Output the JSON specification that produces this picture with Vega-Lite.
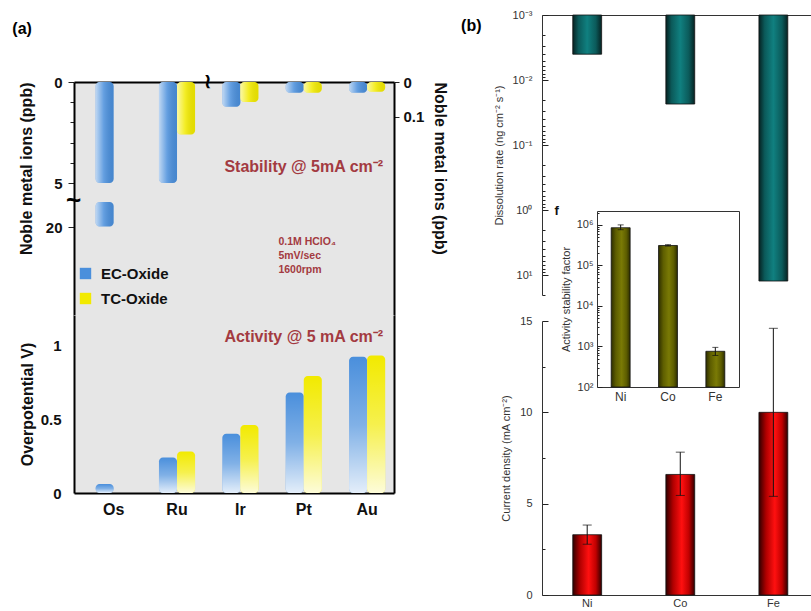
{
"$schema":"https://vega.github.io/schema/vega-lite/v6.json",
"background":"white",
"padding":{"left":12,"top":9,"right":0,"bottom":0},
"config":{
 "view":{"stroke":null},
 "font":"Liberation Sans",
 "axis":{"labelFont":"Liberation Sans","titleFont":"Liberation Sans","labelColor":"#333","titleColor":"#333","domainColor":"#000","tickColor":"#222","grid":false,"labelFontSize":11,"titleFontSize":11,"titleFontWeight":"normal"},
 "title":{"font":"Liberation Sans","fontSize":16,"fontWeight":"bold","color":"#000","anchor":"start","frame":"bounds"}
},
"datasets":{
 "stabL":[{"metal":"Os","type":"EC","lo":0,"hi":5},{"metal":"Os","type":"EC","lo":11.5,"hi":19.8},{"metal":"Ru","type":"EC","lo":0,"hi":5},{"metal":"Ru","type":"TC","lo":0,"hi":2.6}],
 "stabR":[{"metal":"Ir","type":"EC","ppb":0.071},{"metal":"Ir","type":"TC","ppb":0.057},{"metal":"Pt","type":"EC","ppb":0.031},{"metal":"Pt","type":"TC","ppb":0.031},{"metal":"Au","type":"EC","ppb":0.031},{"metal":"Au","type":"TC","ppb":0.028}],
 "act":[{"metal":"Os","type":"EC","V":0.06},{"metal":"Ru","type":"EC","V":0.24},{"metal":"Ru","type":"TC","V":0.28},{"metal":"Ir","type":"EC","V":0.40},{"metal":"Ir","type":"TC","V":0.46},{"metal":"Pt","type":"EC","V":0.68},{"metal":"Pt","type":"TC","V":0.79},{"metal":"Au","type":"EC","V":0.92},{"metal":"Au","type":"TC","V":0.93}],
 "diss":[{"metal":"Ni","rate":0.004},{"metal":"Co","rate":0.0233},{"metal":"Fe","rate":12.2}],
 "curr":[{"metal":"Ni","j":3.3,"lo":2.78,"hi":3.83},{"metal":"Co","j":6.6,"lo":5.45,"hi":7.82},{"metal":"Fe","j":10.0,"lo":5.4,"hi":14.6}],
 "asf":[{"metal":"Ni","v":850000,"lo":760000,"hi":1000000},{"metal":"Co","v":310000,"lo":300000,"hi":325000},{"metal":"Fe","v":760,"lo":600,"hi":950}]
},
"concat":[
 {
  "title":{"text":"(a)","offset":-22,"dx":-6},
  "vconcat":[
   {"width":320,"height":67,"view":{"fill":"#ffffff"},"data":{"values":[]},"mark":"point"},
   {
    "width":320,"height":233,
    "view":{"fill":"#e6e6e6"},
    "layer":[
     {"layer":[
       {"data":{"name":"stabL"},"mark":{"type":"bar","cornerRadius":4},
        "encoding":{
         "x":{"field":"metal","type":"nominal","scale":{"domain":["Os","Ru","Ir","Pt","Au"],"paddingInner":0.43,"paddingOuter":0.24,"align":0.71},"axis":{"orient":"top","labels":false,"ticks":false,"title":null,"domainWidth":2}},
         "xOffset":{"field":"type","type":"nominal","scale":{"domain":["EC","TC"]}},
         "y":{"field":"lo","type":"quantitative","scale":{"domain":[0,5,20,40],"range":[0,101,145,233],"nice":false,"zero":false},
              "axis":{"orient":"left","values":[0,1,2,3,4,5,20],"labelExpr":"(datum.value==0||datum.value==5||datum.value==20)?datum.label:''","tickSize":{"condition":{"test":"datum.value==0||datum.value==5||datum.value==20","value":6},"value":4},"labelPadding":6,"labelFontSize":15,"labelFontWeight":"bold","labelColor":"#111","title":"Noble metal ions (ppb)","titleFontSize":16,"titleFontWeight":"bold","titleColor":"#111","titleAnchor":"start","titleAlign":"right","titlePadding":11,"domainWidth":2}},
         "y2":{"field":"hi"},
         "color":{"field":"type","type":"nominal","scale":{"domain":["EC","TC"],"range":["#4a8fdc","#f2ea00"]},"legend":{"title":null,"orient":"none","legendX":4,"legendY":184,"symbolType":"square","symbolSize":130,"symbolStrokeWidth":0,"labelFontSize":15,"labelFontWeight":"bold","labelFont":"Liberation Sans","labelColor":"#111","labelOffset":8,"rowPadding":9,"labelExpr":"datum.label + '-Oxide'"}}
        }},
       {"data":{"name":"stabL"},"mark":{"type":"bar","cornerRadius":4,"fill":{"gradient":"linear","x1":0,"y1":0,"x2":1,"y2":0,"stops":[{"offset":0,"color":"rgba(255,255,255,0.65)"},{"offset":0.45,"color":"rgba(255,255,255,0.15)"},{"offset":1,"color":"rgba(0,0,0,0.06)"}]}},
        "encoding":{"x":{"field":"metal","type":"nominal","axis":null},"xOffset":{"field":"type","type":"nominal"},"y":{"field":"lo","type":"quantitative","axis":null},"y2":{"field":"hi"}}},
       {"data":{"values":[{}]},"mark":{"type":"text","text":"Stability @ 5mA cm⁻²","fontSize":16,"fontWeight":"bold","color":"#a33a41","align":"center","baseline":"middle"},
        "encoding":{"x":{"datum":"Pt","axis":null},"y":{"datum":4.2,"axis":null}}},
       {"data":{"values":[{}]},"mark":{"type":"text","text":"0.1M HClO₄\n5mV/sec\n1600rpm","lineBreak":"\n","lineHeight":14,"fontSize":10.5,"fontWeight":"bold","color":"#a33a41","align":"left","baseline":"top","dx":38},
        "encoding":{"x":{"datum":"Ir","axis":null},"y":{"datum":22.3,"axis":null}}},
       {"data":{"values":[{}]},"mark":{"type":"text","text":"~","fontSize":26,"fontWeight":"bold","color":"#000","align":"center","baseline":"middle","dx":-40},
        "encoding":{"x":{"datum":"Os","axis":null},"y":{"datum":11,"axis":null}}},
       {"data":{"values":[{}]},"mark":{"type":"text","text":"≀","fontSize":20,"fontWeight":"bold","color":"#000","align":"center","baseline":"middle","dx":31},
        "encoding":{"x":{"datum":"Ru","axis":null},"y":{"datum":0,"axis":null}}}
      ],
      "resolve":{"axis":{"x":"independent","y":"independent"}}
     },
     {"layer":[
       {"data":{"name":"stabR"},"mark":{"type":"bar","cornerRadius":4},
        "encoding":{"x":{"field":"metal","type":"nominal","axis":null},"xOffset":{"field":"type","type":"nominal"},
         "y":{"field":"ppb","type":"quantitative","stack":null,"scale":{"domain":[0,0.666],"reverse":true,"nice":false},"axis":{"orient":"right","values":[0,0.1],"format":"~g","tickSize":5,"labelPadding":4,"labelFontSize":15,"labelFontWeight":"bold","labelColor":"#111","title":"Noble metal ions (ppb)","titleFontSize":16,"titleFontWeight":"bold","titleColor":"#111","titleAnchor":"start","titlePadding":8,"domainWidth":2}},
         "color":{"field":"type","type":"nominal","scale":{"domain":["EC","TC"],"range":["#4a8fdc","#f2ea00"]},"legend":{"title":null,"orient":"none","legendX":4,"legendY":184,"symbolType":"square","symbolSize":130,"symbolStrokeWidth":0,"labelFontSize":15,"labelFontWeight":"bold","labelFont":"Liberation Sans","labelColor":"#111","labelOffset":8,"rowPadding":9,"labelExpr":"datum.label + '-Oxide'"}}}},
       {"data":{"name":"stabR"},"mark":{"type":"bar","cornerRadius":4,"fill":{"gradient":"linear","x1":0,"y1":0,"x2":1,"y2":0,"stops":[{"offset":0,"color":"rgba(255,255,255,0.65)"},{"offset":0.45,"color":"rgba(255,255,255,0.15)"},{"offset":1,"color":"rgba(0,0,0,0.06)"}]}},
        "encoding":{"x":{"field":"metal","type":"nominal","axis":null},"xOffset":{"field":"type","type":"nominal"},"y":{"field":"ppb","type":"quantitative","stack":null,"axis":null}}}
      ],
      "resolve":{"axis":{"x":"independent","y":"independent"}}
     }
    ],
    "resolve":{"scale":{"y":"independent"}}
   },
   {
    "width":320,"height":178,
    "view":{"fill":"#e6e6e6"},
    "layer":[
     {"data":{"name":"act"},"mark":{"type":"bar","cornerRadius":4},
      "encoding":{
       "x":{"field":"metal","type":"nominal","scale":{"domain":["Os","Ru","Ir","Pt","Au"],"paddingInner":0.43,"paddingOuter":0.24,"align":0.71},"axis":{"orient":"bottom","ticks":false,"labelPadding":8,"labelFontSize":16,"labelFontWeight":"bold","labelColor":"#111","labelAngle":0,"title":null,"domainWidth":2}},
       "xOffset":{"field":"type","type":"nominal","scale":{"domain":["EC","TC"]}},
       "y":{"field":"V","type":"quantitative","stack":null,"scale":{"domain":[0,1.203],"nice":false},"axis":{"orient":"left","values":[0,0.5,1],"format":"~g","ticks":false,"labelPadding":13,"labelFontSize":15,"labelFontWeight":"bold","labelColor":"#111","title":"Overpotential V)","titleFontSize":16,"titleFontWeight":"bold","titleColor":"#111","titlePadding":5,"domainWidth":2}},
       "color":{"field":"type","type":"nominal","scale":{"domain":["EC","TC"],"range":["#4a8fdc","#f2ea00"]},"legend":null}
      }},
     {"data":{"name":"act"},"mark":{"type":"bar","cornerRadius":4,"fill":{"gradient":"linear","x1":0,"y1":0,"x2":0,"y2":1,"stops":[{"offset":0,"color":"rgba(255,255,255,0)"},{"offset":0.5,"color":"rgba(255,255,255,0.3)"},{"offset":1,"color":"rgba(255,255,255,0.85)"}]}},
      "encoding":{"x":{"field":"metal","type":"nominal","axis":null},"xOffset":{"field":"type","type":"nominal"},"y":{"field":"V","type":"quantitative","stack":null,"axis":{"orient":"right","labels":false,"ticks":false,"title":null,"domainWidth":2}}}},
     {"data":{"values":[{}]},"mark":{"type":"text","text":"Activity @ 5 mA cm⁻²","fontSize":16,"fontWeight":"bold","color":"#a33a41","align":"center","baseline":"middle"},
      "encoding":{"x":{"datum":"Pt","axis":null},"y":{"datum":1.054,"axis":null}}}
    ],
    "resolve":{"axis":{"x":"independent","y":"independent"}}
   }
  ],
  "spacing":0,
  "bounds":"flush",
  "resolve":{"scale":{"color":"independent"}}
 },
 {
  "title":{"text":"(b)","dx":-32,"offset":-25},
  "width":269,"height":584,
  "layer":[
   {"data":{"name":"diss"},"mark":{"type":"bar","stroke":"#111","strokeWidth":0.8,"fill":{"gradient":"linear","x1":0,"y1":0,"x2":1,"y2":0,"stops":[{"offset":0,"color":"#062222"},{"offset":0.2,"color":"#0b5a5a"},{"offset":0.5,"color":"#108080"},{"offset":0.8,"color":"#0b5a5a"},{"offset":1,"color":"#062222"}]}},
    "encoding":{
     "x":{"field":"metal","type":"nominal","sort":["Ni","Co","Fe"],"scale":{"domain":["Ni","Co","Fe"],"range":[0,269],"paddingInner":0.69,"paddingOuter":0.29,"align":0.57},"axis":{"orient":"top","labels":false,"ticks":false,"title":null,"domainColor":"#333"}},
     "y":{"field":"rate","type":"quantitative","scale":{"type":"log","domain":[0.001,20],"range":[0,280],"nice":false},
          "axis":{"orient":"left","values":[0.001,0.002,0.003,0.004,0.005,0.006,0.007,0.008,0.009,0.01,0.02,0.03,0.04,0.05,0.06,0.07,0.08,0.09,0.1,0.2,0.3,0.4,0.5,0.6,0.7,0.8,0.9,1,2,3,4,5,6,7,8,9,10,20],
                  "labelExpr":"datum.value==0.001?'10⁻³':datum.value==0.01?'10⁻²':datum.value==0.1?'10⁻¹':datum.value==1?'10⁰':datum.value==10?'10¹':''",
                  "tickSize":{"condition":{"test":"datum.value==0.001||datum.value==0.01||datum.value==0.1||datum.value==1||datum.value==10","value":-6},"value":-3},
                  "labelPadding":16,"title":"Dissolution rate (ng cm⁻² s⁻¹)","titlePadding":8,"domainColor":"#333"}},
     "y2":{"datum":0.001}
    }},
   {"data":{"name":"curr"},"layer":[
     {"mark":{"type":"bar","stroke":"#111","strokeWidth":0.8,"fill":{"gradient":"linear","x1":0,"y1":0,"x2":1,"y2":0,"stops":[{"offset":0,"color":"#300000"},{"offset":0.25,"color":"#b00000"},{"offset":0.55,"color":"#ff1010"},{"offset":0.8,"color":"#c00000"},{"offset":1,"color":"#300000"}]}},
      "encoding":{
       "x":{"field":"metal","type":"nominal","sort":["Ni","Co","Fe"],"scale":{"domain":["Ni","Co","Fe"],"range":[0,269],"paddingInner":0.69,"paddingOuter":0.29,"align":0.57},"axis":{"orient":"bottom","offset":-4,"ticks":false,"labelPadding":2,"labelFontSize":11,"labelAngle":0,"title":null,"domainColor":"#333"}},
       "y":{"field":"j","type":"quantitative","scale":{"domain":[0,15],"range":[580,306],"nice":false},
            "axis":{"orient":"left","values":[0,2.5,5,7.5,10,12.5,15],"labelExpr":"datum.value%5==0?datum.label:''","tickSize":{"condition":{"test":"datum.value%5==0","value":-6},"value":-3},"labelPadding":16,"title":"Current density (mA cm⁻²)","titlePadding":8,"domainColor":"#333"}}
      }},
     {"mark":{"type":"errorbar","ticks":true,"size":9,"color":"#111"},
      "encoding":{"x":{"field":"metal","type":"nominal","axis":null},"y":{"field":"lo","type":"quantitative","axis":null},"y2":{"field":"hi"}}}
    ],
    "resolve":{"axis":{"x":"independent","y":"independent"}}
   },
   {"data":{"name":"asf"},"layer":[
     {"mark":{"type":"bar","stroke":"#111","strokeWidth":0.8,"fill":{"gradient":"linear","x1":0,"y1":0,"x2":1,"y2":0,"stops":[{"offset":0,"color":"#2e2e00"},{"offset":0.25,"color":"#5e5e00"},{"offset":0.55,"color":"#7a7a05"},{"offset":0.8,"color":"#5e5e00"},{"offset":1,"color":"#2e2e00"}]}},
      "encoding":{
       "x":{"field":"metal","type":"nominal","sort":["Ni","Co","Fe"],"scale":{"domain":["Ni","Co","Fe"],"range":[55,197],"paddingInner":0.6,"paddingOuter":0.3},"axis":{"orient":"bottom","offset":-212,"ticks":false,"labelPadding":4,"labelFontSize":12,"labelAngle":0,"title":null,"domainColor":"#333"}},
       "y":{"field":"v","type":"quantitative","scale":{"type":"log","domain":[100,2200000],"range":[372,196],"nice":false},
            "axis":{"orient":"left","offset":-55,"values":[100,200,300,400,500,600,700,800,900,1000,2000,3000,4000,5000,6000,7000,8000,9000,10000,20000,30000,40000,50000,60000,70000,80000,90000,100000,200000,300000,400000,500000,600000,700000,800000,900000,1000000,2000000],
                    "labelExpr":"datum.value==100?'10²':datum.value==1000?'10³':datum.value==10000?'10⁴':datum.value==100000?'10⁵':datum.value==1000000?'10⁶':''",
                    "tickSize":{"condition":{"test":"datum.value==100||datum.value==1000||datum.value==10000||datum.value==100000||datum.value==1000000","value":-5},"value":-2},
                    "labelPadding":9,"title":"Activity stability factor","titlePadding":5,"domainColor":"#333"}},
       "y2":{"datum":100}
      }},
     {"mark":{"type":"errorbar","ticks":true,"size":6,"color":"#111"},
      "encoding":{"x":{"field":"metal","type":"nominal","axis":{"orient":"top","offset":-196,"labels":false,"ticks":false,"title":null,"domainColor":"#333"}},
                  "y":{"field":"lo","type":"quantitative","axis":{"orient":"right","offset":-72,"labels":false,"ticks":false,"title":null,"domainColor":"#333"}},
                  "y2":{"field":"hi"}}},
     {"data":{"values":[{}]},"mark":{"type":"text","text":"f","fontSize":13,"fontWeight":"bold","color":"#111","dx":-64,"baseline":"middle"},
      "encoding":{"x":{"datum":"Ni","axis":null},"y":{"datum":2200000,"axis":null}}}
    ],
    "resolve":{"axis":{"x":"independent","y":"independent"}}
   }
  ],
  "resolve":{"scale":{"x":"independent","y":"independent"}}
 }
],
"columns":2,
"align":"none",
"spacing":13
}
